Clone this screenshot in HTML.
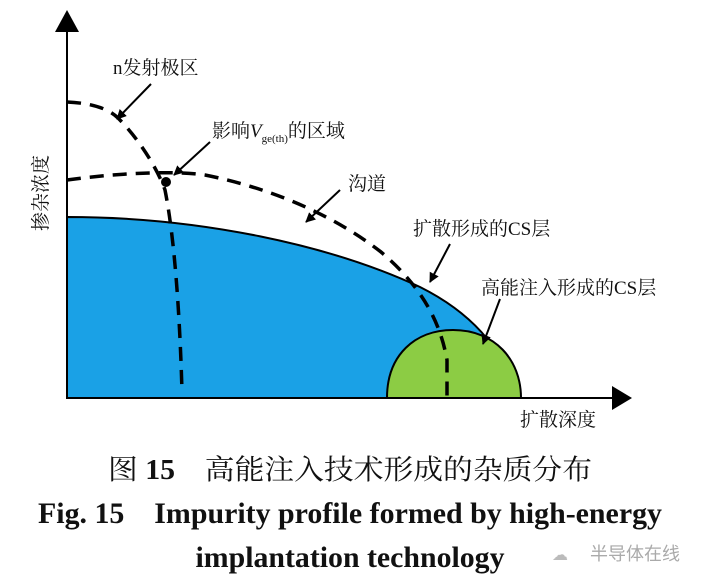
<!DOCTYPE html>
<html><head><meta charset="utf-8"><style>
body{margin:0;background:#fff;width:710px;height:586px;overflow:hidden}
svg{display:block}
.c{font-family:"Liberation Serif","Noto Serif CJK SC",serif;}
</style></head><body>
<svg width="710" height="586" viewBox="0 0 710 586">
<defs><marker id="a" viewBox="0 0 10 10" refX="9" refY="5" markerWidth="5" markerHeight="5" orient="auto"><path d="M0,0L10,5L0,10z" fill="#000"/></marker></defs>
<path d="M67,398 L67,217 C200,217 330,245 420,287 C470,312 500,345 521,398 Z" fill="#1aa1e6" stroke="#000" stroke-width="2"/>
<path d="M387,398 C387,355 415,330 453,330 C495,330 521,360 521,398 Z" fill="#8ccc44" stroke="#000" stroke-width="2"/>
<line x1="67" y1="398" x2="615" y2="398" stroke="#000" stroke-width="2"/>
<path d="M612,386 L632,398 L612,410z"/>
<line x1="67" y1="398" x2="67" y2="30" stroke="#000" stroke-width="2"/>
<path d="M55,32 L67,10 L79,32z"/>
<g fill="none" stroke="#000" stroke-width="3.5" stroke-dasharray="14,9">
<path d="M67,102 C90,103 108,108 118,118 C140,140 158,170 165,190 C175,240 180,320 182,392"/>
<path d="M67,180 C110,174 170,170 205,175 C280,190 340,220 381,252 C420,285 440,320 447,360 L447,396"/>
</g>
<circle cx="166" cy="182" r="5"/>
<g stroke="#000" stroke-width="2" marker-end="url(#a)">
<line x1="151" y1="84" x2="117" y2="119"/>
<line x1="210" y1="142" x2="174" y2="175"/>
<line x1="340" y1="190" x2="306" y2="222"/>
<line x1="450" y1="244" x2="430" y2="282"/>
<line x1="500" y1="299" x2="483" y2="344"/>
</g>
<g class="c" font-size="19" fill="#111">
<text x="113" y="74">n发射极区</text>
<text x="212" y="137">影响<tspan font-style="italic">V</tspan><tspan font-size="11" dy="5">ge(th)</tspan><tspan dy="-5">的区域</tspan></text>
<text x="348" y="190">沟道</text>
<text x="413" y="235">扩散形成的CS层</text>
<text x="481" y="294">高能注入形成的CS层</text>
<text x="520" y="426">扩散深度</text>
<text transform="translate(47,193) rotate(-90)" text-anchor="middle">掺杂浓度</text>
</g>
<text class="c" x="350" y="479" font-size="28" text-anchor="middle" fill="#111" textLength="484" lengthAdjust="spacingAndGlyphs">图 <tspan font-weight="bold">15</tspan>　高能注入技术形成的杂质分布</text>
<text class="c" x="350" y="523" font-size="30" font-weight="bold" text-anchor="middle" fill="#111" textLength="624" lengthAdjust="spacingAndGlyphs">Fig. 15　Impurity profile formed by high-energy</text>
<text class="c" x="350" y="567" font-size="30" font-weight="bold" text-anchor="middle" fill="#111" textLength="309" lengthAdjust="spacingAndGlyphs">implantation technology</text>
<text x="590" y="560" font-family="Noto Sans CJK SC,sans-serif" font-size="18" fill="#aaa">半导体在线</text>
<text x="552" y="560" font-size="16" fill="#bbb">☁</text>
</svg>
</body></html>
